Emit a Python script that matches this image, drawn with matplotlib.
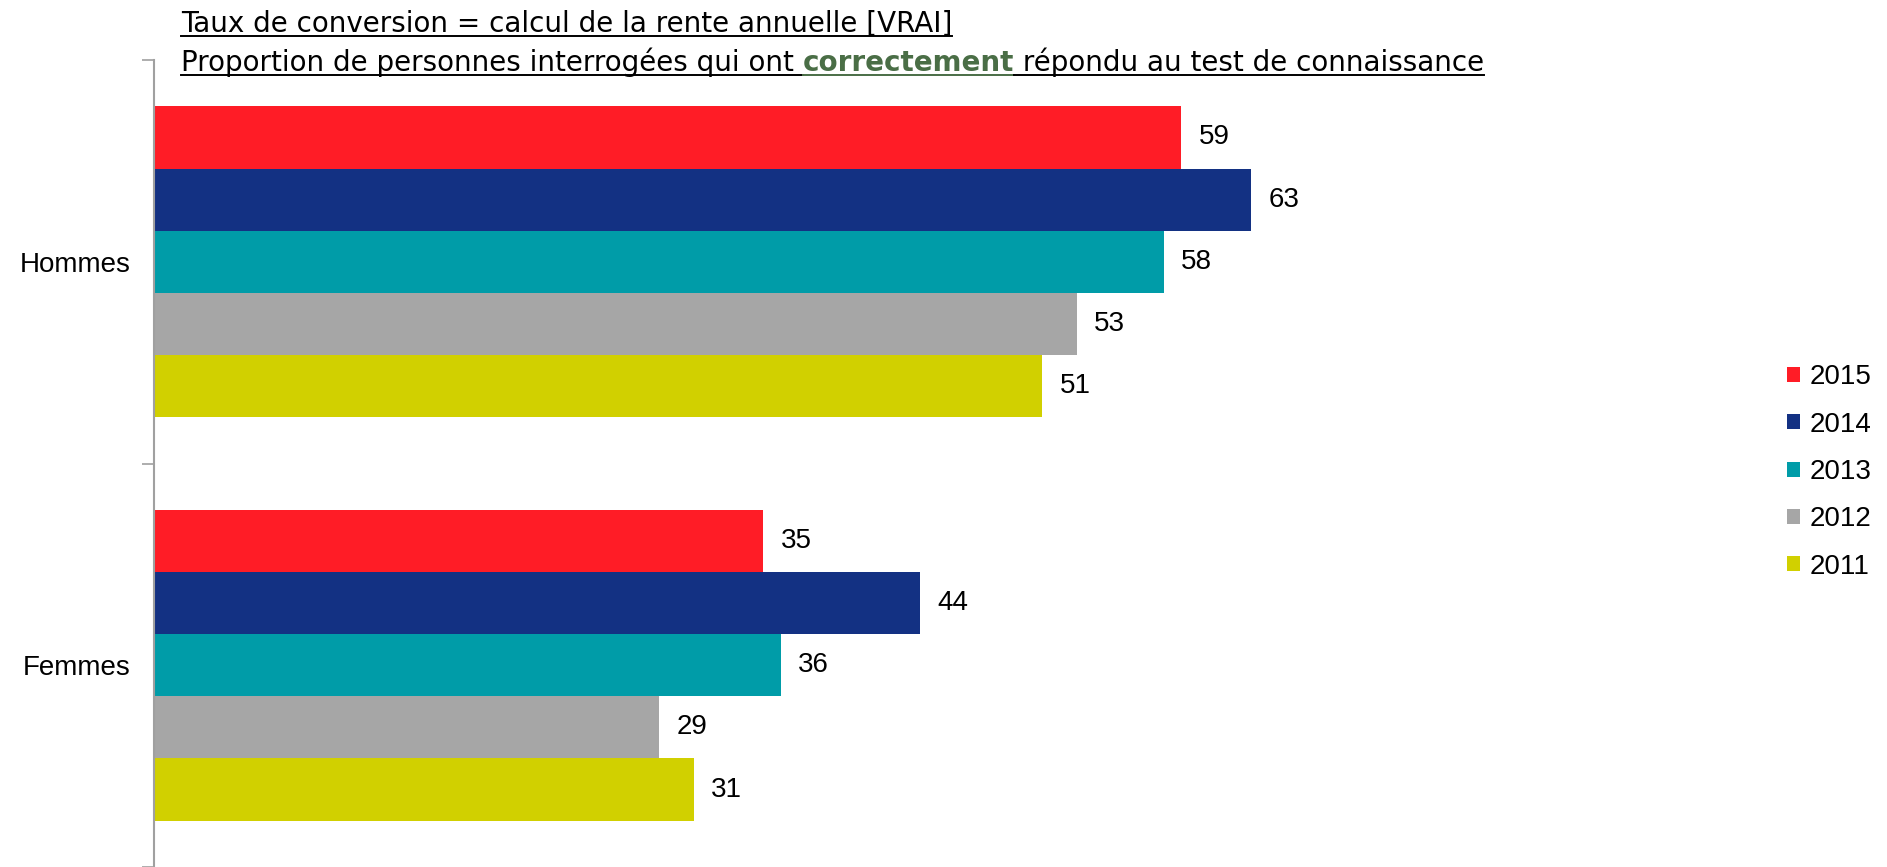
import numpy as np
import matplotlib
matplotlib.use('Agg')
import matplotlib.pyplot as plt
from matplotlib.lines import Line2D
from matplotlib.patches import Patch

plt.rcParams['font.family'] = ['Liberation Sans', 'DejaVu Sans']

categories = ['Hommes', 'Femmes']
years = ['2015', '2014', '2013', '2012', '2011']
v2015 = [59, 35]
v2014 = [63, 44]
v2013 = [58, 36]
v2012 = [53, 29]
v2011 = [51, 31]
series = [v2015, v2014, v2013, v2012, v2011]
colors = ['#ff1c26', '#133183', '#009ca8', '#a6a6a6', '#d1d000']

title1 = 'Taux de conversion = calcul de la rente annuelle [VRAI]'
title2 = ['Proportion de personnes interrogées qui ont ', 'correctement', ' répondu au test de connaissance']

W, H = 1887, 867
fig = plt.figure(figsize=(W / 100, H / 100), dpi=100)
ax = fig.add_axes([154 / W, 0, 1567 / W, 1 - 60 / H])

fs = 20
bh = 0.154
y = np.arange(len(categories))
for i, (vals, c) in enumerate(zip(series, colors)):
    pos = y + (i - 2) * bh
    ax.barh(pos, vals, height=bh, color=c, label=years[i])
    for p, v in zip(pos, vals):
        ax.text(v + 1.0, p, str(v), va='center', ha='left', fontsize=fs)

ax.set_xlim(0, 90)
ax.set_ylim(1.5, -0.5)
ax.set_yticks(y)
ax.set_yticklabels(categories, fontsize=fs)
ax.tick_params(axis='y', which='major', length=0, pad=17)
ax.set_yticks([-0.5, 0.5, 1.5], minor=True)
ax.tick_params(axis='y', which='minor', length=9, width=1.2, color='#a0a0a0')
ax.set_xticks([])
for s in ['top', 'right', 'bottom']:
    ax.spines[s].set_visible(False)
ax.spines['left'].set_color('#a0a0a0')
ax.spines['left'].set_linewidth(1.5)

handles = [Patch(facecolor=c, edgecolor='none') for c in colors]
fig.legend(handles, years, loc='center left', bbox_to_anchor=(1787 / W, 1 - 472 / H),
           frameon=False, fontsize=fs, handlelength=0.45, handleheight=0.45,
           handletextpad=0.35, labelspacing=0.77, borderaxespad=0, borderpad=0)

# titles with underline
fig.canvas.draw()
r = fig.canvas.get_renderer()

def underline(t, yb):
    bb = t.get_window_extent(r)
    fig.add_artist(Line2D([bb.x0, bb.x1], [yb - 4, yb - 4], transform=None,
                          color=t.get_color(), linewidth=1.4))
    return bb

tfont = ['DejaVu Sans']
x0 = 181
yb1 = H - 32
t = fig.text(x0 / W, yb1 / H, title1, fontsize=fs, family=tfont, va='baseline', ha='left')
underline(t, yb1)

yb2 = H - 71
x = x0
for k, part in enumerate(title2):
    kw = dict(fontsize=fs, family=tfont, va='baseline', ha='left')
    if k == 1:
        kw.update(color='#4a6e46', fontweight='bold')
    t = fig.text(x / W, yb2 / H, part, **kw)
    bb = underline(t, yb2)
    x = bb.x1

fig.savefig('out.png', dpi=100)
